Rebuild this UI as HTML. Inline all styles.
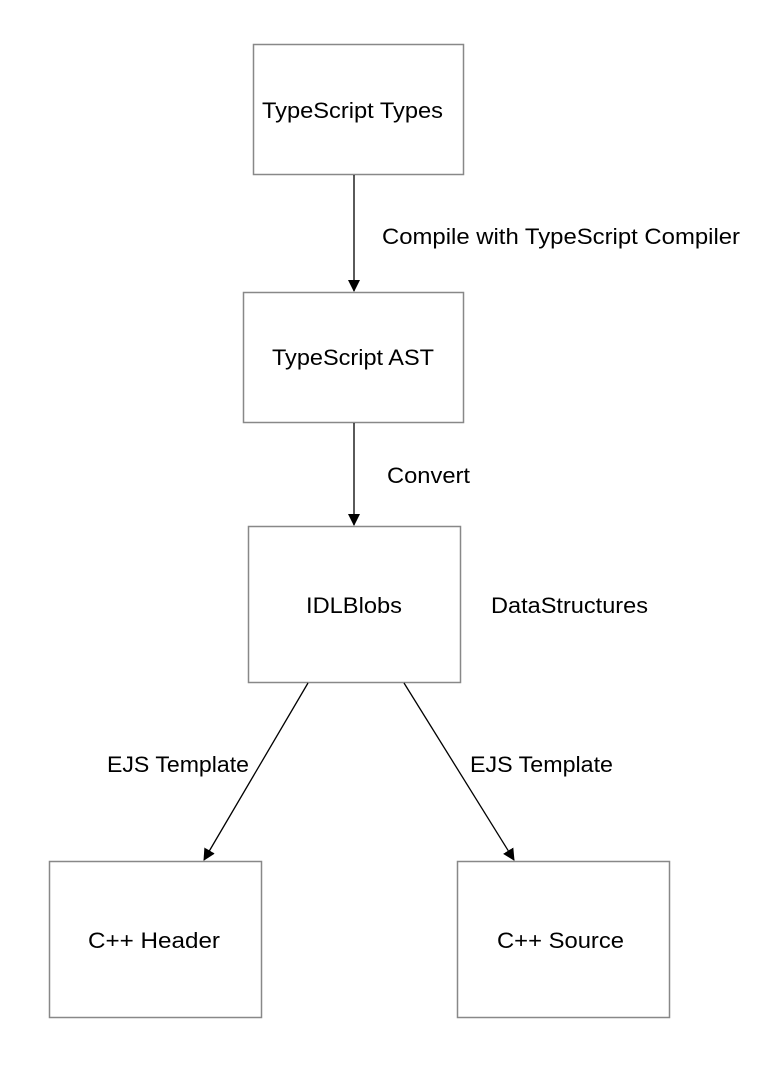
<!DOCTYPE html>
<html><head><meta charset="utf-8"><style>
html,body{margin:0;padding:0;background:#fff;}
svg{display:block;}
text{font-family:"Liberation Sans",Arial,sans-serif;font-size:22px;fill:#000;}
</style></head><body>
<svg width="766" height="1070" viewBox="0 0 766 1070">
<defs><marker id="a" markerWidth="12" markerHeight="14" refX="11" refY="6" orient="auto" markerUnits="userSpaceOnUse"><path d="M0,0 L12,6 L0,12 z" fill="#000"/></marker></defs>
<g fill="#fff" stroke="#888" stroke-width="1.5">
<rect x="253.5" y="44.5" width="210" height="130"/>
<rect x="243.5" y="292.5" width="220" height="130"/>
<rect x="248.5" y="526.5" width="212" height="156"/>
<rect x="49.5" y="861.5" width="212" height="156"/>
<rect x="457.5" y="861.5" width="212" height="156"/>
</g>
<g stroke="#000" stroke-width="1.3" marker-end="url(#a)">
<line x1="354" y1="175" x2="354" y2="291"/>
<line x1="354" y1="423" x2="354" y2="525"/>
<line x1="308" y1="683" x2="204" y2="860"/>
<line x1="404" y1="683" x2="514" y2="860"/>
</g>
<g lengthAdjust="spacingAndGlyphs">
<text x="262" y="118" textLength="181" lengthAdjust="spacingAndGlyphs">TypeScript Types</text>
<text x="272" y="365" textLength="162" lengthAdjust="spacingAndGlyphs">TypeScript AST</text>
<text x="306" y="613" textLength="96" lengthAdjust="spacingAndGlyphs">IDLBlobs</text>
<text x="88" y="948" textLength="132" lengthAdjust="spacingAndGlyphs">C++ Header</text>
<text x="497" y="948" textLength="127" lengthAdjust="spacingAndGlyphs">C++ Source</text>
<text x="382" y="244" textLength="358" lengthAdjust="spacingAndGlyphs">Compile with TypeScript Compiler</text>
<text x="387" y="483" textLength="83" lengthAdjust="spacingAndGlyphs">Convert</text>
<text x="491" y="613" textLength="157" lengthAdjust="spacingAndGlyphs">DataStructures</text>
<text x="107" y="772" textLength="142" lengthAdjust="spacingAndGlyphs">EJS Template</text>
<text x="470" y="772" textLength="143" lengthAdjust="spacingAndGlyphs">EJS Template</text>
</g>
</svg>
</body></html>
